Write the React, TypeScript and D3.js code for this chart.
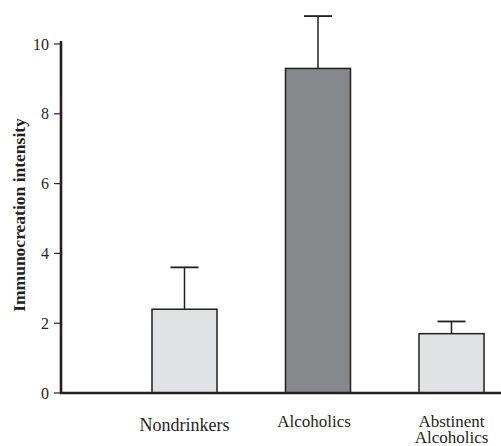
import React from 'react'
import * as d3 from 'd3'

const groups = ['Nondrinkers', 'Alcoholics', 'Abstinent Alcoholics']
const means = [2.4, 9.3, 1.7]
const errors = [1.2, 1.5, 0.35]
const fills = ['#e1e2e3', '#87888b', '#e1e2e3']
const yTicks = [0, 2, 4, 6, 8, 10]

const W = 501
const H = 446
const ink = '#231f20'
const serif = { fontFamily: "'Liberation Serif', 'DejaVu Serif', serif" }

function App() {
    const y = d3.scaleLinear().domain([0, 10]).range([393, 44])
    const x = d3.scaleBand()
        .domain(groups)
        .range([117.75, 518.25])
        .paddingInner(0.513)
        .paddingOuter(0.2565)
    const bw = x.bandwidth()
    const capW = 28

    return (
        <svg width={W} height={H}
            style={{ position: 'absolute', left: 0, top: 0, background: '#fff' }}>
            {/* bars */}
            {groups.map((g, i) => {
                const x0 = x(g) as number
                const cx = x0 + bw / 2
                const top = y(means[i])
                const errTop = y(means[i] + errors[i])
                return (
                    <g key={g}>
                        <line x1={cx} x2={cx} y1={top} y2={errTop} stroke={ink} strokeWidth={1.5} />
                        <line x1={cx - capW / 2} x2={cx + capW / 2} y1={errTop} y2={errTop} stroke={ink} strokeWidth={1.8} />
                        <rect x={x0} y={top} width={bw} height={y(0) - top}
                            fill={fills[i]} stroke={ink} strokeWidth={1.5} />
                    </g>
                )
            })}

            {/* y axis */}
            <line x1={61} x2={61} y1={41} y2={y(0) + 1} stroke={ink} strokeWidth={2.6} />
            {yTicks.map(t => (
                <g key={t} transform={`translate(0,${y(t)})`}>
                    <line x1={54} x2={61} stroke={ink} strokeWidth={1.2} />
                    <text x={49} dy="0.35em" textAnchor="end" style={serif}
                        fontSize={16} fill={ink}>{t}</text>
                </g>
            ))}

            {/* x axis */}
            <line x1={60} x2={W} y1={y(0)} y2={y(0)} stroke={ink} strokeWidth={2.6} />

            {/* category labels */}
            {groups.map((g, i) => {
                const cx = (x(g) as number) + bw / 2
                const words = g === 'Abstinent Alcoholics' ? ['Abstinent', 'Alcoholics'] : [g]
                const base = i === 0 ? 431 : 427
                return (
                    <text key={g} textAnchor="middle" style={serif} fontSize={i === 0 ? 18 : 17} fill={ink}>
                        {words.map((w, j) => (
                            <tspan key={w} x={cx - (i === 1 ? 4 : 0)} y={base + j * 16}>{w}</tspan>
                        ))}
                    </text>
                )
            })}

            {/* y label */}
            <text transform={`translate(25,${215}) rotate(-90)`} textAnchor="middle"
                style={serif} fontSize={17.5} fontWeight="bold" fill={ink}>
                Immunocreation intensity
            </text>
        </svg>
    )
}

export default App
